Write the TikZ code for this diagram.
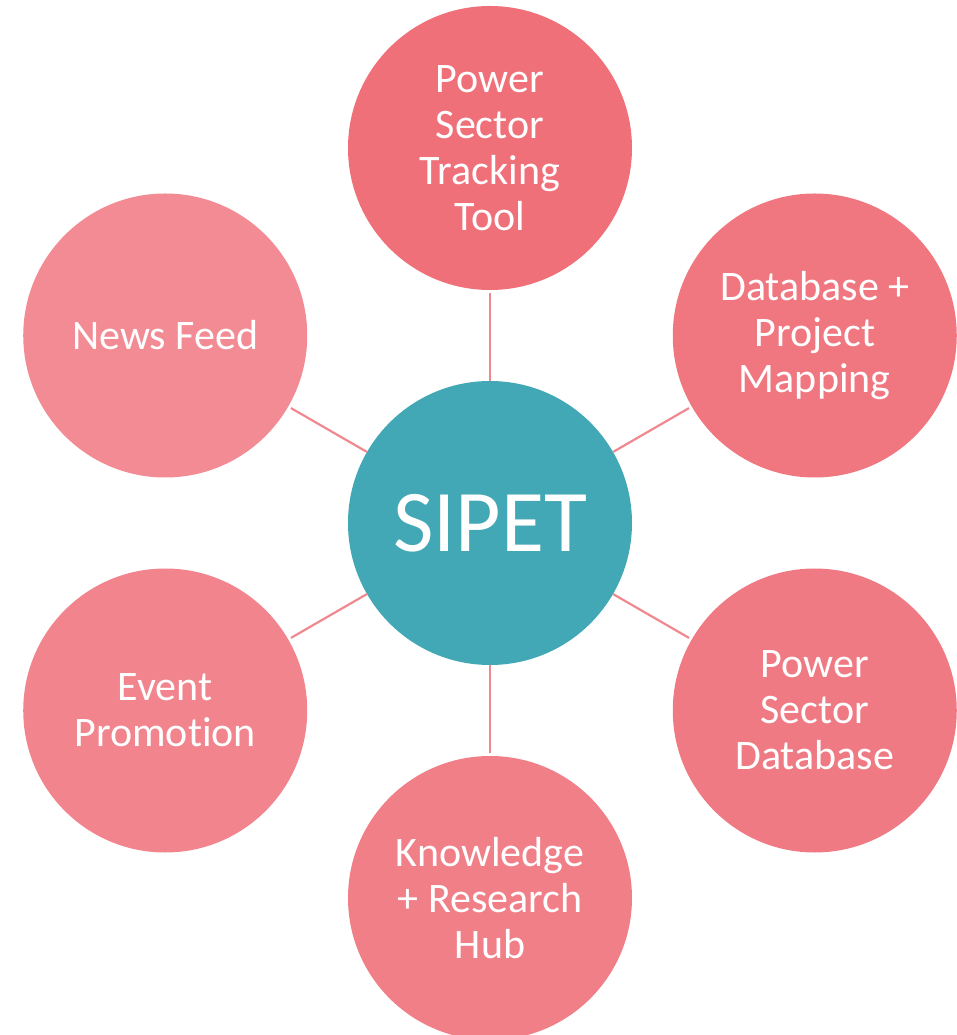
\documentclass[tikz,border=0pt]{standalone}
\usepackage{fontspec}
\setmainfont[Ligatures=NoCommon]{Carlito}
\definecolor{MyTeal}{HTML}{43A8B5}
\definecolor{MyLink}{HTML}{F08890}
\definecolor{PinkA}{HTML}{F0707A}
\definecolor{PinkB}{HTML}{F0767F}
\definecolor{PinkC}{HTML}{F07A83}
\definecolor{PinkD}{HTML}{F07F88}
\definecolor{PinkE}{HTML}{F1848D}
\definecolor{PinkF}{HTML}{F28B93}

\begin{document}
\begin{tikzpicture}[
        bubble/.style={circle, minimum size=284pt, inner sep=0pt, text=white,
          align=center, font=\fontsize{42}{46}\selectfont},
        link/.style={draw=MyLink, line width=2.2pt, shorten >=3pt}]
        \useasboundingbox (-490pt,-512pt) rectangle (467pt,523pt);

        \node[bubble, fill=MyTeal, font=\fontsize{88}{90}\selectfont] (sipet) at (0,0) {SIPET};

        \node[bubble, fill=PinkA] (tracking) at (90:375pt) {Power\\Sector\\Tracking\\Tool};
        \node[bubble, fill=PinkB] (mapping) at (30:375pt) {Database +\\Project\\Mapping};
        \node[bubble, fill=PinkC] (database) at (-30:375pt) {Power\\Sector\\Database};
        \node[bubble, fill=PinkD] (hub) at (-90:375pt) {Knowledge\\+ Research\\Hub};
        \node[bubble, fill=PinkE] (events) at (-150:375pt) {Event\\Promotion};
        \node[bubble, fill=PinkF] (news) at (150:375pt) {News Feed};

        \foreach \n in {tracking,mapping,database,hub,events,news}
          \draw[link] (sipet) -- (\n);

    \end{tikzpicture}
\end{document}
